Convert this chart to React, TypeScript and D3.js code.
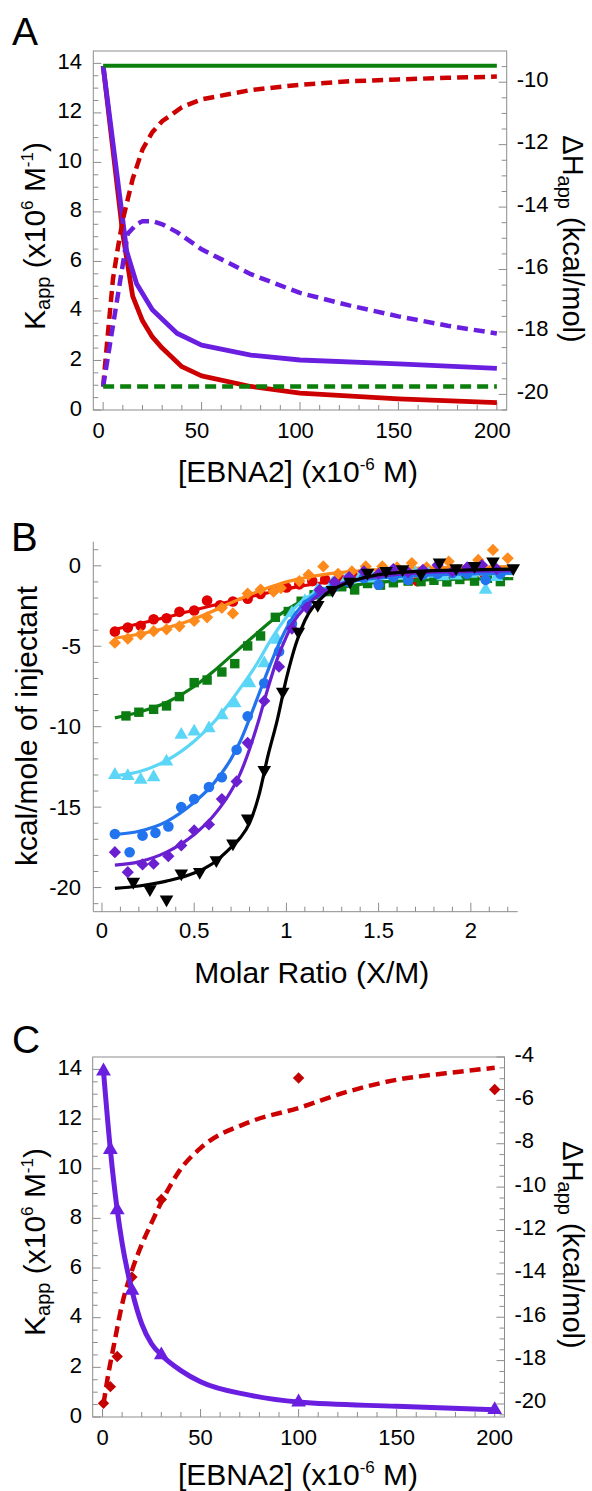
import React from 'react';
import * as d3 from 'd3';

const FONT = "'Liberation Sans', Arial, Helvetica, sans-serif";
const AXIS = '#8c8c8c';

// ---------- Panel A ----------
const aRedKX = [0, 10, 15, 20, 25, 30, 40, 50, 75, 100, 150, 200];
const aRedK = [13.9, 7.1, 4.6, 3.6, 2.95, 2.5, 1.75, 1.38, 0.95, 0.68, 0.45, 0.3];
const aPurKX = [0, 12, 17, 25, 37.5, 50, 75, 100, 150, 200];
const aPurK = [13.9, 6.4, 5.1, 4.05, 3.1, 2.62, 2.22, 2.02, 1.86, 1.68];
const aGreenKX = [0, 200];
const aGreenK = [13.9, 13.9];
const aRedHX = [0, 2.5, 5, 7.5, 10, 12.5, 15, 20, 25, 30, 40, 50, 75, 100, 125, 150, 175, 200];
const aRedH = [-19.75, -18.0, -16.3, -15.3, -14.4, -13.75, -13.1, -12.15, -11.6, -11.25, -10.8, -10.55, -10.25, -10.08, -9.97, -9.91, -9.86, -9.82];
const aPurHX = [0, 12.5, 17, 20, 25, 30, 37.5, 50, 75, 100, 125, 150, 175, 200];
const aPurH = [-19.75, -14.85, -14.55, -14.45, -14.45, -14.55, -14.8, -15.35, -16.15, -16.75, -17.15, -17.5, -17.8, -18.05];
const aGreenHX = [0, 200];
const aGreenH = [-19.75, -19.75];

// ---------- Panel B ----------
const bRedX = [0.07, 0.14, 0.21, 0.28, 0.35, 0.42, 0.5, 0.57, 0.64, 0.71, 0.79, 0.86, 0.93, 1.0, 1.07, 1.14, 1.21, 1.29, 1.36, 1.43, 1.5, 1.57, 1.64, 1.71, 1.79, 1.86, 1.93, 2.0, 2.07, 2.14];
const bRedY = [-4.09, -3.84, -3.73, -3.32, -3.26, -2.86, -2.78, -2.16, -2.45, -2.22, -2.05, -1.75, -1.5, -1.35, -1.15, -0.95, -0.85, -0.8, -0.6, -0.55, -0.65, -0.35, -0.5, -0.95, -0.45, -0.35, -0.25, -0.35, -0.45, -0.3];
const bOrangeX = [0.07, 0.14, 0.21, 0.28, 0.35, 0.42, 0.5, 0.57, 0.65, 0.71, 0.79, 0.86, 0.93, 0.97, 1.07, 1.12, 1.2, 1.28, 1.355, 1.43, 1.52, 1.6, 1.68, 1.76, 1.88, 1.95, 2.04, 2.12, 2.2];
const bOrangeY = [-4.78, -4.53, -4.26, -4.06, -3.95, -3.76, -3.43, -3.2, -2.61, -2.96, -1.72, -1.47, -1.6, -1.38, -0.95, -0.56, -0.04, -0.5, -0.35, -0.04, -0.04, -0.1, 0.17, -0.1, 0.27, -0.3, 0.37, 0.99, 0.47];
const bGreenX = [0.13, 0.2, 0.28, 0.35, 0.42, 0.5, 0.57, 0.65, 0.72, 0.79, 0.86, 0.94, 1.01, 1.08, 1.15, 1.22, 1.3, 1.37, 1.44, 1.51, 1.58, 1.66, 1.73, 1.8, 1.87, 1.94, 2.02, 2.09, 2.16];
const bGreenY = [-9.33, -9.1, -8.92, -8.71, -8.13, -7.26, -7.1, -6.6, -6.08, -4.98, -4.36, -3.2, -2.84, -2.2, -1.8, -1.6, -1.3, -1.5, -1.1, -1.2, -1.05, -0.95, -0.98, -0.9, -1.0, -0.85, -0.95, -0.77, -0.98];
const bCyanX = [0.07, 0.14, 0.21, 0.28, 0.35, 0.43, 0.5, 0.58, 0.65, 0.72, 0.8, 0.88, 0.95, 1.03, 1.1, 1.17, 1.25, 1.32, 1.4, 1.47, 1.55, 1.62, 1.7, 1.77, 1.85, 1.92, 2.0, 2.08, 2.14];
const bCyanY = [-13.0, -13.07, -13.3, -13.14, -12.17, -10.51, -10.3, -10.1, -9.3, -8.55, -7.3, -6.06, -4.6, -2.94, -2.2, -1.5, -1.1, -0.9, -0.7, -0.8, -0.5, -0.6, -0.45, -0.5, -0.65, -0.6, -0.5, -1.49, -0.7];
const bBlueX = [0.07, 0.15, 0.22, 0.29, 0.36, 0.43, 0.5, 0.58, 0.65, 0.73, 0.79, 0.88, 0.96, 1.03, 1.11, 1.18, 1.26, 1.34, 1.42, 1.5, 1.58, 1.66, 1.74, 1.82, 1.9, 1.98, 2.08, 2.16];
const bBlueY = [-16.67, -17.8, -16.77, -16.6, -16.2, -15.0, -14.5, -13.75, -13.14, -11.43, -9.35, -7.3, -5.33, -3.6, -2.4, -1.7, -1.3, -1.0, -0.75, -1.18, -0.7, -0.87, -0.55, -0.5, -0.45, -0.5, -0.87, -0.5];
const bPurpleX = [0.07, 0.14, 0.22, 0.28, 0.36, 0.43, 0.5, 0.58, 0.65, 0.73, 0.79, 0.88, 0.96, 1.03, 1.11, 1.18, 1.26, 1.34, 1.42, 1.5, 1.58, 1.66, 1.74, 1.82, 1.9, 1.98, 2.06, 2.14];
const bPurpleY = [-17.8, -19.04, -18.56, -18.52, -18.05, -17.38, -16.45, -16.08, -14.5, -13.4, -11.0, -8.4, -6.27, -3.9, -2.6, -1.5, -1.0, -0.7, -0.35, -0.5, -0.2, -0.4, -0.25, 0.05, -0.35, -0.1, 0.05, -0.2];
const bBlackX = [0.17, 0.26, 0.35, 0.43, 0.53, 0.62, 0.71, 0.79, 0.88, 0.98, 1.065, 1.17, 1.25, 1.345, 1.44, 1.54, 1.63, 1.73, 1.83, 1.92, 2.02, 2.12, 2.23];
const bBlackY = [-19.64, -20.1, -20.74, -19.12, -19.02, -18.3, -17.26, -15.7, -12.69, -7.82, -4.09, -2.43, -1.49, -0.98, -0.42, -0.31, -0.21, -0.5, 0.21, -0.14, 0, 0.27, -0.14];

const bFitX = [0.07, 0.2, 0.35, 0.5, 0.6, 0.7, 0.75, 0.8, 0.85, 0.9, 0.95, 1.0, 1.05, 1.1, 1.2, 1.3, 1.4, 1.5, 1.7, 2.0, 2.23];
const bRedFit = [-3.95, -3.6, -3.2, -2.75, -2.47, -2.2, -2.06, -1.93, -1.8, -1.67, -1.55, -1.43, -1.32, -1.22, -1.05, -0.9, -0.78, -0.68, -0.52, -0.38, -0.3];
const bOrangeFit = [-4.5, -4.25, -3.85, -3.3, -2.82, -2.3, -2.05, -1.8, -1.57, -1.36, -1.17, -1.0, -0.86, -0.74, -0.55, -0.41, -0.31, -0.24, -0.15, -0.08, -0.05];
const bGreenFit = [-9.45, -9.1, -8.5, -7.5, -6.6, -5.6, -5.1, -4.6, -4.1, -3.6, -3.15, -2.75, -2.4, -2.1, -1.65, -1.35, -1.15, -1.02, -0.9, -0.82, -0.8];
const bCyanFit = [-13.05, -12.8, -12.1, -10.9, -9.8, -8.4, -7.6, -6.8, -5.9, -4.9, -4.0, -3.2, -2.55, -2.05, -1.45, -1.1, -0.9, -0.78, -0.62, -0.52, -0.48];
const bBlueFit = [-16.7, -16.5, -15.9, -14.7, -13.6, -12.0, -10.9, -9.5, -8.0, -6.5, -5.1, -3.9, -2.95, -2.3, -1.5, -1.1, -0.88, -0.75, -0.6, -0.5, -0.45];
const bPurpleFit = [-18.6, -18.4, -17.8, -16.7, -15.6, -14.0, -12.9, -11.4, -9.6, -7.6, -5.8, -4.4, -3.3, -2.6, -1.6, -1.1, -0.8, -0.65, -0.45, -0.35, -0.3];
const bBlackFit = [-20.05, -19.9, -19.6, -19.1, -18.5, -17.5, -16.9, -16.0, -14.3, -11.8, -9.6, -7.0, -4.9, -3.4, -1.9, -1.2, -0.8, -0.55, -0.35, -0.25, -0.2];

// ---------- Panel C ----------
const cPtX = [0.5, 4, 7.5, 15, 30, 100, 200];
const cPtK = [13.93, 10.77, 8.34, 5.1, 2.5, 0.6, 0.29];
const cPtH = [-19.97, -19.2, -17.81, -14.15, -10.57, -4.97, -5.5];
const cFitKX = [0.5, 4, 7.5, 10, 15, 20, 25, 30, 40, 50, 75, 100, 150, 200];
const cFitK = [13.93, 10.77, 8.34, 7.0, 5.1, 3.75, 2.95, 2.5, 1.87, 1.42, 0.88, 0.6, 0.43, 0.29];
const cFitHX = [0.5, 3, 6, 10, 15, 20, 25, 30, 40, 50, 75, 100, 125, 150, 175, 200];
const cFitH = [-20.0, -18.6, -17.2, -15.4, -13.85, -12.65, -11.65, -10.7, -9.15, -8.2, -7.0, -6.35, -5.6, -5.05, -4.75, -4.5];

const zip = (xs: number[], ys: number[]): [number, number][] => xs.map((x, i) => [x, ys[i]]);

// scales
const xA = d3.scaleLinear().domain([-5, 205]).range([93.3, 506.7]);
const yAL = d3.scaleLinear().domain([0, 14.5]).range([410, 51]);
const yAR = d3.scaleLinear().domain([-20.5, -9]).range([410, 51]);

const xB = d3.scaleLinear().domain([-0.047, 2.254]).range([93.3, 517.7]);
const yB = d3.scaleLinear().domain([-21.5, 1.5]).range([911.7, 541.7]);

const xC = d3.scaleLinear().domain([-5, 205]).range([92.7, 504.5]);
const yCL = d3.scaleLinear().domain([0, 14.5]).range([1417, 1057]);
const yCR = d3.scaleLinear().domain([-20.6, -4]).range([1417, 1057]);

const mkLine = (xs: any, ys: any, curve: any = d3.curveLinear) =>
  d3.line<[number, number]>().x(d => xs(d[0])).y(d => ys(d[1])).curve(curve);

const RED = '#cc0000';
const PUR = '#6a1fe0';
const GRN = '#0b7f0b';

const tickFont = 22;
const titleFont = 30;
const subFont = 20;
const supFont = 17;

function Box({ x0, x1, y0, y1 }: any) {
  return <rect x={x0} y={y0} width={x1 - x0} height={y1 - y0} fill="none" stroke={AXIS} strokeWidth={1} />;
}

function KTitle({ x, y }: any) {
  return (
    <text transform={`translate(${x},${y}) rotate(-90)`} textAnchor="middle" fontSize={titleFont} fontFamily={FONT}>
      K<tspan fontSize={subFont} dy={5}>app</tspan>
      <tspan dy={-5}> (x10</tspan>
      <tspan fontSize={supFont} dy={-12}>6</tspan>
      <tspan dy={12}> M</tspan>
      <tspan fontSize={supFont} dy={-12}>-1</tspan>
      <tspan dy={12}>)</tspan>
    </text>
  );
}

function HTitle({ x, y }: any) {
  return (
    <text transform={`translate(${x},${y}) rotate(90)`} textAnchor="middle" fontSize={29} fontFamily={FONT}>
      ΔH<tspan fontSize={subFont} dy={5}>app</tspan>
      <tspan dy={-5}> (kcal/mol)</tspan>
    </text>
  );
}

function EbnaTitle({ x, y }: any) {
  return (
    <text x={x} y={y} textAnchor="middle" fontSize={titleFont} fontFamily={FONT}>
      [EBNA2] (x10<tspan fontSize={supFont} dy={-12}>-6</tspan>
      <tspan dy={12}> M)</tspan>
    </text>
  );
}

function DualPanel({ xs, yL, yR, rightTicks, labelShift, xLabelBase }: any) {
  const [x0, x1] = xs.range();
  const [yb, yt] = yL.range();
  const xt = d3.range(0, 201, 10);
  const lt = d3.range(0, 14.01, 0.5);
  const rt = rightTicks;
  return (
    <g>
      <Box x0={x0} x1={x1} y0={yt} y1={yb} />
      {xt.map(v => {
        const major = v % 50 === 0;
        return <line key={'x' + v} x1={xs(v)} x2={xs(v)} y1={yb} y2={yb - (major ? 8 : 5)} stroke={AXIS} />;
      })}
      {xt.filter(v => v % 50 === 0).map(v => (
        <text key={'xl' + v} x={xs(v) + labelShift} y={xLabelBase} textAnchor="middle" fontSize={tickFont} fontFamily={FONT}>{v}</text>
      ))}
      {lt.map(v => {
        const major = Math.abs(v % 2) < 1e-9;
        return <line key={'l' + v} x1={x0} x2={x0 + (major ? 8 : 5)} y1={yL(v)} y2={yL(v)} stroke={AXIS} />;
      })}
      {lt.filter(v => Math.abs(v % 2) < 1e-9).map(v => (
        <text key={'ll' + v} x={82} y={yL(v) + 5.5} textAnchor="end" fontSize={tickFont} fontFamily={FONT}>{v}</text>
      ))}
      {rt.map((v: number) => {
        const major = Math.abs(v % 2) < 1e-9;
        return <line key={'r' + v} x1={x1} x2={x1 - (major ? 8 : 5)} y1={yR(v)} y2={yR(v)} stroke={AXIS} />;
      })}
      {rt.filter((v: number) => Math.abs(v % 2) < 1e-9).map((v: number) => (
        <text key={'rl' + v} x={x1 + 10} y={yR(v) + 4.5} textAnchor="start" fontSize={tickFont} fontFamily={FONT}>{v}</text>
      ))}
    </g>
  );
}

const diamondPath = (r: number) => `M0,${-r}L${r},0L0,${r}L${-r},0Z`;
const triPath = d3.symbol(d3.symbolTriangle, 80)() as string;
const triPathC = d3.symbol(d3.symbolTriangle, 95)() as string;

function Marker({ kind, x, y, color }: any) {
  if (kind === 'circle') return <circle cx={x} cy={y} r={5.3} fill={color} />;
  if (kind === 'square') return <rect x={x - 4.7} y={y - 4.7} width={9.4} height={9.4} fill={color} />;
  if (kind === 'diamond') return <path d={diamondPath(6.1)} transform={`translate(${x},${y})`} fill={color} />;
  if (kind === 'triUp') return <path d={triPath} transform={`translate(${x},${y})`} fill={color} />;
  if (kind === 'triDown') return <path d={triPath} transform={`translate(${x},${y}) rotate(180)`} fill={color} />;
  return null;
}

const bSeries = [
  { name: 'red', color: '#e00000', kind: 'circle', xs: bRedX, ys: bRedY, fit: bRedFit },
  { name: 'orange', color: '#ff8a1c', kind: 'diamond', xs: bOrangeX, ys: bOrangeY, fit: bOrangeFit },
  { name: 'green', color: '#0b7d12', kind: 'square', xs: bGreenX, ys: bGreenY, fit: bGreenFit },
  { name: 'cyan', color: '#5cd6f6', kind: 'triUp', xs: bCyanX, ys: bCyanY, fit: bCyanFit },
  { name: 'blue', color: '#2174ee', kind: 'circle', xs: bBlueX, ys: bBlueY, fit: bBlueFit },
  { name: 'purple', color: '#6a1fd0', kind: 'diamond', xs: bPurpleX, ys: bPurpleY, fit: bPurpleFit },
  { name: 'black', color: '#000000', kind: 'triDown', xs: bBlackX, ys: bBlackY, fit: bBlackFit },
];

export default function App() {
  const lineAL = mkLine(xA, yAL);
  const lineAR = mkLine(xA, yAR);
  const lineB = mkLine(xB, yB, d3.curveMonotoneX);
  const lineCL = mkLine(xC, yCL, d3.curveMonotoneX);
  const lineCR = mkLine(xC, yCR, d3.curveMonotoneX);

  const dash = '11,6';

  const bxt = d3.range(0, 2.201, 0.1);
  const byt = d3.range(-21, 1.01, 1);

  return (
    <svg width={592} height={1491} style={{ position: 'absolute', left: 0, top: 0, background: '#fff' }}>
      <rect x={0} y={0} width={592} height={1491} fill="#fff" />
      {/* ---------- Panel A ---------- */}
      <text x={12} y={45} fontSize={39} fontFamily={FONT}>A</text>
      <DualPanel xs={xA} yL={yAL} yR={yAR} rightTicks={d3.range(-20.5, -9.01, 0.5)} labelShift={-4.5} xLabelBase={437.5} />
      <path d={lineAL(zip(aRedKX, aRedK)) as string} fill="none" stroke={RED} strokeWidth={4.8} strokeLinejoin="round" />
      <path d={lineAL(zip(aPurKX, aPurK)) as string} fill="none" stroke={PUR} strokeWidth={4.8} strokeLinejoin="round" />
      <path d={lineAR(zip(aRedHX, aRedH)) as string} fill="none" stroke={RED} strokeWidth={4.5} strokeDasharray={dash} />
      <path d={lineAR(zip(aPurHX, aPurH)) as string} fill="none" stroke={PUR} strokeWidth={4.5} strokeDasharray={dash} />
      <path d={lineAL(zip(aGreenKX, aGreenK)) as string} fill="none" stroke={GRN} strokeWidth={4} />
      <path d={lineAR(zip(aGreenHX, aGreenH)) as string} fill="none" stroke={GRN} strokeWidth={4.5} strokeDasharray={dash} />
      <KTitle x={45} y={236} />
      <HTitle x={563} y={239} />
      <EbnaTitle x={298} y={482} />

      {/* ---------- Panel B ---------- */}
      <text x={11} y={551} fontSize={40} fontFamily={FONT}>B</text>
      <line x1={93.3} x2={93.3} y1={541.7} y2={911.7} stroke={AXIS} />
      <line x1={93.3} x2={517.7} y1={911.7} y2={911.7} stroke={AXIS} />
      {byt.map(v => {
        const major = v % 5 === 0;
        return <line key={'by' + v} x1={93.3} x2={93.3 + (major ? 8 : 5)} y1={yB(v)} y2={yB(v)} stroke={AXIS} />;
      })}
      {byt.filter(v => v % 5 === 0).map(v => (
        <text key={'byl' + v} x={81} y={yB(v) + 7.5} textAnchor="end" fontSize={tickFont} fontFamily={FONT}>{v}</text>
      ))}
      {bxt.map((v, i) => {
        const major = i % 5 === 0;
        return <line key={'bx' + i} x1={xB(v)} x2={xB(v)} y1={911.7} y2={911.7 - (major ? 9 : 5)} stroke={AXIS} />;
      })}
      {[0, 0.5, 1, 1.5, 2].map(v => (
        <text key={'bxl' + v} x={xB(v)} y={938} textAnchor="middle" fontSize={tickFont} fontFamily={FONT}>{v}</text>
      ))}
      {bSeries.map(s => (
        <g key={s.name}>
          {s.xs.map((x, i) => (
            <Marker key={i} kind={s.kind} x={xB(x)} y={yB(s.ys[i])} color={s.color} />
          ))}
          <path d={lineB(zip(bFitX, s.fit)) as string} fill="none" stroke={s.color} strokeWidth={3.2} />
        </g>
      ))}
      <text transform="translate(37,726) rotate(-90)" textAnchor="middle" fontSize={titleFont} fontFamily={FONT}>kcal/mole of injectant</text>
      <text x={311.7} y={983} textAnchor="middle" fontSize={titleFont} fontFamily={FONT}>Molar Ratio (X/M)</text>

      {/* ---------- Panel C ---------- */}
      <text x={12} y={1053} fontSize={39} fontFamily={FONT}>C</text>
      <DualPanel xs={xC} yL={yCL} yR={yCR} rightTicks={d3.range(-20.5, -3.99, 0.5)} labelShift={0} xLabelBase={1445} />
      <path d={lineCR(zip(cFitHX, cFitH)) as string} fill="none" stroke={RED} strokeWidth={4.5} strokeDasharray={dash} />
      {cPtX.map((x, i) => (
        <path key={'cd' + i} d={diamondPath(5.7)} transform={`translate(${xC(x)},${yCR(cPtH[i])})`} fill="#c40000" />
      ))}
      <path d={lineCL(zip(cFitKX, cFitK)) as string} fill="none" stroke={PUR} strokeWidth={5} />
      {cPtX.map((x, i) => (
        <path key={'ct' + i} d={triPathC} transform={`translate(${xC(x)},${yCL(cPtK[i])})`} fill={PUR} />
      ))}
      <KTitle x={45} y={1242} />
      <HTitle x={563} y={1245} />
      <EbnaTitle x={298} y={1485} />
    </svg>
  );
}
